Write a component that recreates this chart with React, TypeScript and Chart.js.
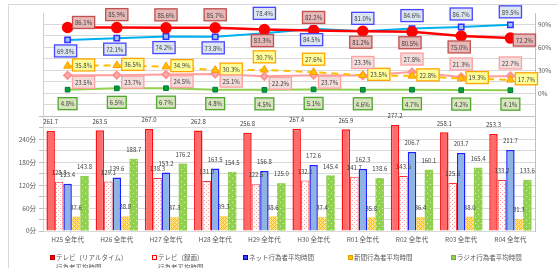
import React, { useEffect, useRef } from "react";
import { Chart, registerables } from "chart.js";

Chart.register(...registerables);

const categories = ["H25 全年代", "H26 全年代", "H27 全年代", "H28 全年代", "H29 全年代", "H30 全年代", "R01 全年代", "R02 全年代", "R03 全年代", "R04 全年代"];

// minutes (bars)
const tvRealtimeMinutes = [261.7, 263.5, 267.0, 262.8, 256.8, 267.4, 265.9, 277.2, 258.1, 253.3];
const tvRecordedMinutes = [128.8, 129.1, 138.3, 131.0, 122.5, 132.1, 141.7, 143.6, 125.5, 133.2];
const netMinutes = [123.4, 139.6, 153.2, 163.5, 156.8, 172.6, 162.3, 206.7, 203.7, 211.7];
const newspaperMinutes = [37.6, 38.8, 37.3, 39.3, 38.6, 37.4, 35.8, 36.4, 38.0, 31.3];
const radioMinutes = [143.8, 188.7, 176.2, 154.5, 125.0, 145.4, 138.6, 160.1, 165.4, 133.6];

// rates % (lines)
const tvRealtimeRate = [86.1, 85.9, 85.6, 85.7, 83.3, 82.2, 81.2, 80.5, 75.0, 72.2];
const netRate = [69.8, 72.1, 74.2, 73.8, 78.4, 84.5, 81.0, 84.6, 86.7, 89.5];
const newspaperRate = [35.8, 36.5, 34.9, 30.3, 30.7, 27.6, 23.5, 22.8, 19.3, 17.7];
const tvRecordedRate = [23.5, 23.7, 24.5, 25.1, 22.2, 23.7, 23.3, 27.8, 21.3, 22.7];
const radioRate = [4.8, 6.5, 6.7, 4.8, 4.5, 5.1, 4.6, 4.7, 4.2, 4.1];

const minuteTicks = [0, 60, 120, 180, 240];
const rateTicks = [0, 30, 60, 90];

const legendItems = [
  { lines: ["テレビ（リアルタイム）", "行為者平均時間"], fill: "#FF0000", border: "#C00000", left: 56 },
  { lines: ["テレビ（録画）", "行為者平均時間"], fill: "#FFFFFF", border: "#FF0000", left: 158 },
  { lines: ["ネット行為者平均時間"], fill: "#4040FF", border: "#0000CC", left: 249 },
  { lines: ["新聞行為者平均時間"], fill: "#FFC000", border: "#E0A000", left: 354 },
  { lines: ["ラジオ行為者平均時間"], fill: "#92D050", border: "#70B030", left: 457 },
];

// label placement codes (style)
const OFF: Record<string, [number, number]> = {
  a: [0, -13],
  A: [0, -20],
  b: [-2, 11],
  B: [0, 14],
  r: [16, -1],
  ru: [16, -5],
  rd: [14, 2],
  br: [16, 7],
};
const redPos = ["ru", "a", "a", "a", "b", "a", "b", "b", "b", "rd"];
const bluePos = ["b", "b", "b", "b", "A", "b", "a", "a", "a", "a"];
const orangePos = ["r", "r", "r", "r", "a", "a", "r", "r", "r", "r"];
const pinkPos = ["br", "br", "br", "br", "br", "br", "a", "a", "a", "a"];
const greenPos = ["B", "B", "B", "B", "B", "B", "B", "B", "B", "B"];

const FONT = '"Noto Sans CJK JP", "Noto Sans", sans-serif';

function makePattern(size: number, draw: (c: CanvasRenderingContext2D) => void) {
  const cv = document.createElement("canvas");
  cv.width = size;
  cv.height = size;
  const c = cv.getContext("2d")!;
  draw(c);
  return c.createPattern(cv, "repeat")!;
}

const labelPlugin = {
  id: "valueLabels",
  afterDatasetsDraw(chart: any) {
    const ctx = chart.ctx as CanvasRenderingContext2D;
    ctx.save();
    chart.data.datasets.forEach((ds: any, i: number) => {
      const meta = chart.getDatasetMeta(i);
      meta.data.forEach((el: any, j: number) => {
        const v = ds.data[j];
        if (ds.type === "line") {
          const off = OFF[ds.labelPos[j]] || [0, -13];
          const txt = v.toFixed(1) + "%";
          ctx.font = `6px ${FONT}`;
          const w = ctx.measureText(txt).width + 5;
          const h = 12;
          const cx = el.x + off[0];
          const cy = el.y + off[1];
          ctx.fillStyle = ds.labelFill;
          ctx.strokeStyle = ds.labelBorder;
          ctx.lineWidth = 1.3;
          ctx.fillRect(cx - w / 2, cy - h / 2, w, h);
          ctx.strokeRect(cx - w / 2, cy - h / 2, w, h);
          ctx.fillStyle = "#404040";
          ctx.textAlign = "center";
          ctx.textBaseline = "middle";
          ctx.fillText(txt, cx, cy + 0.5);
        } else {
          ctx.font = `6px ${FONT}`;
          ctx.fillStyle = "#404040";
          ctx.textAlign = "center";
          ctx.textBaseline = "middle";
          ctx.fillText(v.toFixed(1), el.x, el.y - 9);
        }
      });
    });
    ctx.restore();
  },
};

export default function App() {
  const ref = useRef<HTMLCanvasElement>(null);

  useEffect(() => {
    if (!ref.current) return;
    const pinkDots = makePattern(4, (c) => {
      c.fillStyle = "#FFFFFF";
      c.fillRect(0, 0, 4, 4);
      c.fillStyle = "#FF9A9A";
      c.fillRect(0, 0, 1, 1);
      c.fillRect(2, 2, 1, 1);
    });
    const yellowHatch = makePattern(4, (c) => {
      c.fillStyle = "#FFE38A";
      c.fillRect(0, 0, 4, 4);
      c.fillStyle = "#FFB800";
      c.fillRect(0, 0, 1, 1);
      c.fillRect(1, 1, 1, 1);
      c.fillRect(2, 2, 1, 1);
      c.fillRect(3, 3, 1, 1);
      c.fillRect(3, 1, 1, 1);
      c.fillRect(1, 3, 1, 1);
    });
    const greenDots = makePattern(6, (c) => {
      c.fillStyle = "#92D050";
      c.fillRect(0, 0, 6, 6);
      c.fillStyle = "#D8F0C0";
      c.fillRect(1, 1, 1, 1);
      c.fillRect(4, 4, 1, 1);
    });

    Chart.defaults.font.family = FONT;
    const barCommon = { yAxisID: "y", categoryPercentage: 0.86, barPercentage: 1.0, borderSkipped: "bottom", order: 2 };
    const lineCommon = { yAxisID: "y1", borderWidth: 2, order: 1, clip: false };

    const chart = new Chart(ref.current, {
      type: "bar",
      data: {
        labels: categories,
        datasets: [
          { ...barCommon, type: "bar", label: "テレビ（リアルタイム）行為者平均時間", data: tvRealtimeMinutes, backgroundColor: "#FF6B6B", borderColor: "#FF1010", borderWidth: 1.5 },
          { ...barCommon, type: "bar", label: "テレビ（録画）行為者平均時間", data: tvRecordedMinutes, backgroundColor: pinkDots, borderColor: "#FF3030", borderWidth: 1 },
          { ...barCommon, type: "bar", label: "ネット行為者平均時間", data: netMinutes, backgroundColor: "#8DB4E2", borderColor: "#2020FF", borderWidth: 1.5 },
          { ...barCommon, type: "bar", label: "新聞行為者平均時間", data: newspaperMinutes, backgroundColor: yellowHatch, borderColor: "#FFC000", borderWidth: 0.5 },
          { ...barCommon, type: "bar", label: "ラジオ行為者平均時間", data: radioMinutes, backgroundColor: greenDots, borderWidth: 0 },
          { ...lineCommon, type: "line", label: "テレビ（リアルタイム）行為者率", data: tvRealtimeRate, borderColor: "#FF0000", borderWidth: 2.5, pointStyle: "circle", pointRadius: 4.5, pointBackgroundColor: "#FF0000", pointBorderColor: "#FF0000", labelPos: redPos, labelFill: "#E6B9B8", labelBorder: "#C0504D" },
          { ...lineCommon, type: "line", label: "ネット行為者率", data: netRate, borderColor: "#00B0F0", pointStyle: "rect", pointRadius: 3.8, pointBackgroundColor: "#9CC3F0", pointBorderColor: "#3333FF", pointBorderWidth: 1.5, labelPos: bluePos, labelFill: "#DCE6F2", labelBorder: "#4646FF" },
          { ...lineCommon, type: "line", label: "新聞行為者率", data: newspaperRate, borderColor: "#FFC000", borderDash: [7, 5], pointStyle: "triangle", pointRadius: 4.5, pointBackgroundColor: "#FFC000", pointBorderColor: "#FF9900", pointBorderWidth: 1, labelPos: orangePos, labelFill: "#FFFF99", labelBorder: "#FFA500" },
          { ...lineCommon, type: "line", label: "テレビ（録画）行為者率", data: tvRecordedRate, borderColor: "#FFA0A0", pointStyle: "rectRot", pointRadius: 3.5, pointBackgroundColor: "#FFB0B0", pointBorderColor: "#FF9090", labelPos: pinkPos, labelFill: "#F2DCDB", labelBorder: "#FFA0A0" },
          { ...lineCommon, type: "line", label: "ラジオ行為者率", data: radioRate, borderColor: "#92D050", pointStyle: "rect", pointRadius: 3.3, pointBackgroundColor: "#00A040", pointBorderColor: "#007A30", pointBorderWidth: 1, labelPos: greenPos, labelFill: "#D7E4BD", labelBorder: "#4EA72E" },
        ] as any,
      },
      options: {
        responsive: false,
        animation: false,
        layout: { padding: { left: 8, right: 0, top: 13, bottom: 17 } },
        plugins: { legend: { display: false }, tooltip: { enabled: false } },
        scales: {
          x: {
            grid: { display: false, drawTicks: false },
            border: { display: false },
            ticks: { font: { size: 6.5, family: FONT }, color: "#595959", padding: 5, maxRotation: 0, autoSkip: false },
            afterFit: (s: any) => { s.height = 20; },
          },
          y: {
            position: "left",
            min: 0,
            max: 570,
            ticks: {
              stepSize: 30,
              autoSkip: false,
              font: { size: 6.5, family: FONT },
              color: "#595959",
              padding: 3,
              callback: (v: any) => (minuteTicks.includes(Number(v)) ? v + "分" : ""),
            },
            grid: {
              color: (c: any) => (c.tick && c.tick.value === 570 ? "rgba(0,0,0,0)" : c.tick && c.tick.value === 300 ? "#BFBFBF" : "#D9D9D9"),
              tickColor: (c: any) => (c.tick && c.tick.value <= 300 ? "#BFBFBF" : "rgba(0,0,0,0)"),
              tickLength: 4,
              lineWidth: 1,
            },
            border: { display: true, color: "#D0D0D0" },
            afterFit: (s: any) => { s.width = 35; },
          },
          y1: {
            position: "right",
            min: -180,
            max: 105,
            ticks: {
              stepSize: 15,
              autoSkip: false,
              font: { size: 6.5, family: FONT },
              color: "#595959",
              padding: 3,
              callback: (v: any) => (rateTicks.includes(Number(v)) ? v + "%" : ""),
            },
            grid: { drawOnChartArea: false, drawTicks: false },
            border: { display: true, color: "#BFBFBF" },
            afterFit: (s: any) => { s.width = 23; },
          },
        },
      } as any,
      plugins: [labelPlugin],
    });
    return () => chart.destroy();
  }, []);

  return (
    <div style={{ position: "absolute", left: 0, top: 0, width: 558, height: 268, overflow: "hidden", background: "#FFFFFF", fontFamily: FONT }}>
      <div style={{ position: "absolute", left: 8, top: 4, width: 580, height: 290, border: "1px solid #D9D9D9" }} />
      <canvas ref={ref} width={558} height={268} style={{ position: "absolute", left: 0, top: 0 }} />
      {legendItems.map((it, i) => (
        <div key={i} style={{ position: "absolute", left: it.left, top: 252, fontSize: "6.5px", lineHeight: "10px", color: "#595959", whiteSpace: "nowrap" }}>
          <span style={{ position: "absolute", left: -6, top: 3, width: 3, height: 3, background: it.fill, border: `1px solid ${it.border}` }} />
          {it.lines.map((l, k) => (
            <div key={k}>{l}</div>
          ))}
        </div>
      ))}
    </div>
  );
}
